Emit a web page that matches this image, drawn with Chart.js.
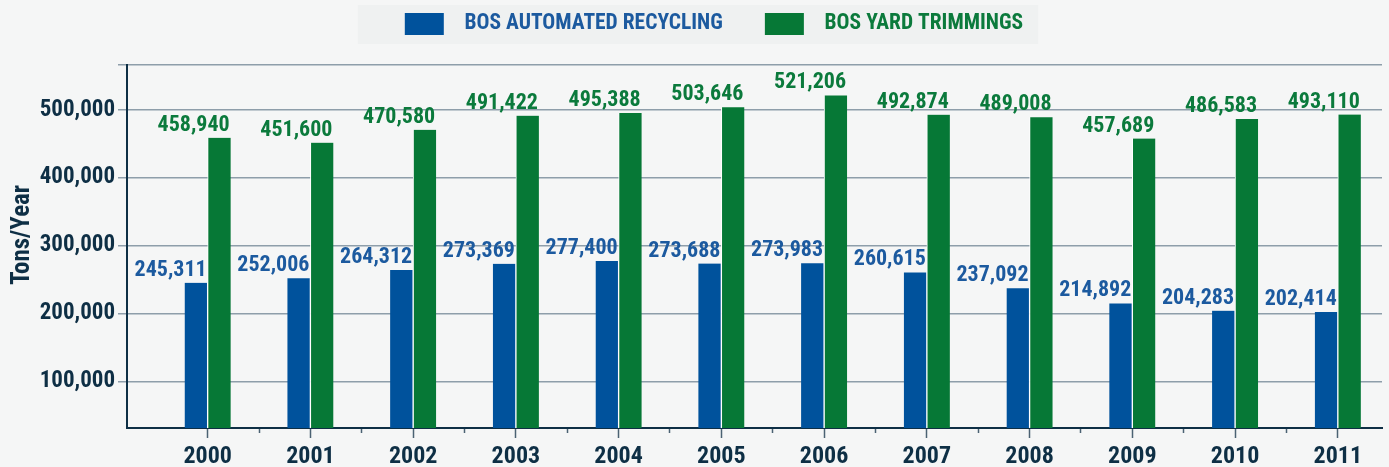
<!DOCTYPE html>
<html>
<head>
<meta charset="utf-8">
<script src="https://cdn.jsdelivr.net/npm/chart.js@4.4.0/dist/chart.umd.min.js"></script>
<style>
    html, body {
        margin: 0;
        padding: 0;
        background: #f5f6f6;
    }
    #wrap {
        width: 1389px;
        height: 467px;
    }
</style>
</head>
<body>
<div id="wrap"><canvas id="myChart"></canvas></div>
<script>
const years = ['2000', '2001', '2002', '2003', '2004', '2005', '2006', '2007', '2008', '2009', '2010', '2011'];
const recycling = [245311, 252006, 264312, 273369, 277400, 273688, 273983, 260615, 237092, 214892, 204283, 202414];
const yardTrimmings = [458940, 451600, 470580, 491422, 495388, 503646, 521206, 492874, 489008, 457689, 486583, 493110];
const yTicks = [100000, 200000, 300000, 400000, 500000];
const seriesNames = ['BOS AUTOMATED RECYCLING', 'BOS YARD TRIMMINGS'];

const BLUE = '#00529c';
const GREEN = '#067836';
const BLUE_TEXT = '#1c5a9f';
const GREEN_TEXT = '#0b7a3c';
const NAVY = '#0e2f45';
const GRID = '#8e9eaa';
const FONT = "'Roboto Condensed', 'Open Sans Condensed', sans-serif";

const Y_MIN = 31500;
const Y_MAX = 566000;

// value labels, right aligned to the bar's right edge
const valueLabels = {
    id: 'valueLabels',
    afterDatasetsDraw(chart) {
        const ctx = chart.ctx;
        ctx.save();
        ctx.font = 'bold 22px ' + FONT;
        ctx.textAlign = 'right';
        ctx.textBaseline = 'alphabetic';
        chart.data.datasets.forEach(function (ds, di) {
            const meta = chart.getDatasetMeta(di);
            ctx.fillStyle = di === 0 ? BLUE_TEXT : GREEN_TEXT;
            meta.data.forEach(function (bar, i) {
                const v = ds.data[i].y;
                ctx.fillText(v.toLocaleString('en-US'), bar.x + bar.width / 2 - 1, bar.y - 7);
            });
        });
        ctx.restore();
    }
};

// legend: fixed height, nudged right/up, with a pale box behind it
const legendBox = {
    id: 'legendBox',
    beforeLayout(chart) {
        const lg = chart.legend;
        if (lg && !lg._patched) {
            const fit = lg.fit;
            lg.fit = function () {
                fit.call(this);
                this.height = 65;
            };
            lg._patched = true;
        }
    },
    afterLayout(chart) {
        const lg = chart.legend;
        lg.left += 23;
        lg.right += 23;
        lg.top -= 29;
    },
    beforeDraw(chart) {
        const lg = chart.legend;
        const pad = lg.options.labels.padding;
        const lw = lg.lineWidths ? lg.lineWidths[0] : 0;
        const start = (lg.left + pad + lg.right - lw) / 2;
        const ctx = chart.ctx;
        ctx.save();
        ctx.fillStyle = '#eff1f1';
        ctx.fillRect(start - 47, 5, lw - pad + 62, 39);
        ctx.restore();
    }
};

const bg = {
    id: 'bg',
    beforeDraw(chart) {
        const ctx = chart.ctx;
        ctx.save();
        ctx.fillStyle = '#f5f6f6';
        ctx.fillRect(0, 0, chart.width, chart.height);
        ctx.restore();
    }
};

const ctx1 = document.getElementById('myChart');

new Chart(ctx1, {
    type: 'bar',
    data: {
        datasets: [{
            label: seriesNames[0],
            data: recycling.map(function (v, i) { return { x: i, y: v }; }),
            backgroundColor: BLUE,
            borderColor: '#ffffff',
            borderWidth: { top: 0, right: 1, bottom: 0, left: 0 },
            borderSkipped: false
        }, {
            label: seriesNames[1],
            data: yardTrimmings.map(function (v, i) { return { x: i, y: v }; }),
            backgroundColor: GREEN,
            borderColor: '#ffffff',
            borderWidth: { top: 0, right: 0, bottom: 0, left: 1 },
            borderSkipped: false
        }]
    },
    options: {
        responsive: true,
        maintainAspectRatio: false,
        animation: false,
        barThickness: 23,
        layout: {
            padding: { top: 0, right: 7, bottom: 0, left: 0 }
        },
        plugins: {
            tooltip: { enabled: false },
            legend: {
                position: 'top',
                labels: {
                    boxWidth: 39,
                    boxHeight: 22,
                    padding: 42,
                    font: { family: FONT, size: 21.5, weight: 'bold' },
                    generateLabels(chart) {
                        return chart.data.datasets.map(function (ds, i) {
                            return {
                                text: '  ' + ds.label,
                                fillStyle: ds.backgroundColor,
                                strokeStyle: ds.backgroundColor,
                                lineWidth: 0,
                                fontColor: i === 0 ? BLUE_TEXT : GREEN_TEXT,
                                datasetIndex: i,
                                hidden: false
                            };
                        });
                    }
                }
            }
        },
        scales: {
            x: {
                type: 'linear',
                offset: false,
                min: -0.785,
                max: 11.43,
                afterBuildTicks(scale) {
                    const t = [];
                    for (let i = 0; i < years.length; i++) {
                        t.push({ value: i });
                        if (i < years.length - 1) t.push({ value: i + 0.5 });
                    }
                    scale.ticks = t;
                },
                afterFit(scale) {
                    scale.height = 39;
                },
                ticks: {
                    autoSkip: false,
                    maxRotation: 0,
                    padding: 5,
                    color: NAVY,
                    font: { family: FONT, size: 24, weight: 'bold' },
                    callback(value) {
                        return Number.isInteger(value) ? years[value] : '';
                    }
                },
                grid: {
                    drawOnChartArea: false,
                    offset: false,
                    tickLength: 10,
                    tickColor: '#4b6273',
                    tickWidth: 1.5,
                    tickBorderDash(c) {
                        if (!c.tick) return [];
                        return Number.isInteger(c.tick.value) ? [] : [4, 40];
                    }
                },
                border: { color: NAVY, width: 2 }
            },
            y: {
                min: Y_MIN,
                max: Y_MAX,
                afterBuildTicks(scale) {
                    scale.ticks = yTicks.map(function (v) { return { value: v }; }).concat([{ value: Y_MAX }]);
                },
                afterFit(scale) {
                    scale.width = 127;
                },
                ticks: {
                    padding: 3,
                    color: NAVY,
                    font: { family: FONT, size: 23, weight: 'bold' },
                    callback(value) {
                        return yTicks.indexOf(value) >= 0 ? value.toLocaleString('en-US') : '';
                    }
                },
                grid: {
                    color: GRID,
                    lineWidth: 1.5,
                    tickLength: 9
                },
                border: { color: NAVY, width: 2 },
                title: {
                    display: true,
                    text: '    Tons/Year',
                    color: NAVY,
                    font: { family: FONT, size: 25, weight: 'bold' },
                    padding: { top: 8, bottom: 0 }
                }
            }
        }
    },
    plugins: [bg, legendBox, valueLabels]
});
</script>
</body>
</html>
